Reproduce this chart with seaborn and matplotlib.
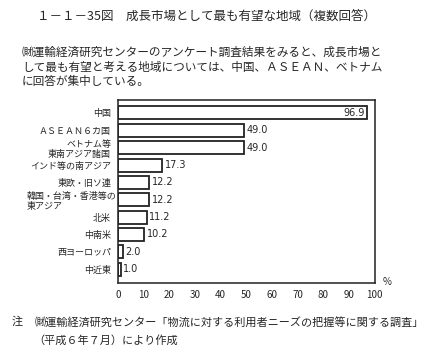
import pandas as pd
import matplotlib
matplotlib.use('Agg')
import matplotlib.pyplot as plt
import seaborn as sns

regions = ['中国', 'ＡＳＥＡＮ６カ国', 'ベトナム等\n東南アジア諸国', 'インド等の南アジア',
           '東欧・旧ソ連', '韓国・台湾・香港等の\n東アジア', '北米', '中南米',
           '西ヨーロッパ', '中近東']
shares = [96.9, 49.0, 49.0, 17.3, 12.2, 12.2, 11.2, 10.2, 2.0, 1.0]
x_ticks = [0, 10, 20, 30, 40, 50, 60, 70, 80, 90, 100]

df = pd.DataFrame({'region': regions, 'share': shares})

sns.set_style('white')
plt.rcParams['font.family'] = ['Noto Sans CJK JP', 'DejaVu Sans']

fig = plt.figure(figsize=(4.42, 3.54), dpi=100)
ax = fig.add_axes([0.267, 0.2006, 0.581, 0.517])

sns.barplot(data=df, x='share', y='region', orient='h', color='white',
            edgecolor='#222222', linewidth=1.3, width=0.75, ax=ax)

ax.set_xlim(0, 100)
ax.set_ylim(9.8, -0.75)
ax.set_xticks(x_ticks)
ax.set_xticklabels([str(t) for t in x_ticks], fontsize=7)
ax.set_xlabel('')
ax.set_ylabel('')
ax.tick_params(axis='both', direction='out', length=3, width=0.8, color='#222222', pad=2)
ax.tick_params(axis='y', labelsize=6.5)
for lab in ax.get_yticklabels():
    if lab.get_text().startswith('韓国'):
        lab.set_horizontalalignment('left')
        lab.set_x(-0.355)
        lab.set_transform(ax.get_yaxis_transform())
for s in ax.spines.values():
    s.set_visible(True)
    s.set_color('#222222')
    s.set_linewidth(1.1)

for i, v in enumerate(shares):
    if v > 90:
        ax.text(v - 1, i, f'{v:.1f}', ha='right', va='center', fontsize=7,
                family='DejaVu Sans')
    else:
        ax.text(v + 1, i, f'{v:.1f}', ha='left', va='center', fontsize=7,
                family='DejaVu Sans')

fig.text(383 / 442, 1 - 282 / 354, '%', fontsize=7, ha='left', va='center')

fig.text(37 / 442, 1 - 16 / 354, '１－１－35図　成長市場として最も有望な地域（複数回答）',
         fontsize=9, ha='left', va='center')
fig.text(22 / 442, 1 - 52 / 354,
         '㈶運輸経済研究センターのアンケート調査結果をみると、成長市場と',
         fontsize=8.4, ha='left', va='center')
fig.text(22 / 442, 1 - 67 / 354,
         'して最も有望と考える地域については、中国、ＡＳＥＡＮ、ベトナム',
         fontsize=8.4, ha='left', va='center')
fig.text(22 / 442, 1 - 82 / 354, 'に回答が集中している。',
         fontsize=8.4, ha='left', va='center')

fig.text(12 / 442, 1 - 322 / 354, '注', fontsize=8, ha='left', va='center')
fig.text(35 / 442, 1 - 322 / 354,
         '㈶運輸経済研究センター「物流に対する利用者ニーズの把握等に関する調査」',
         fontsize=8, ha='left', va='center')
fig.text(33 / 442, 1 - 340 / 354, '（平成６年７月）により作成',
         fontsize=8, ha='left', va='center')

fig.savefig('out.png', dpi=100)
